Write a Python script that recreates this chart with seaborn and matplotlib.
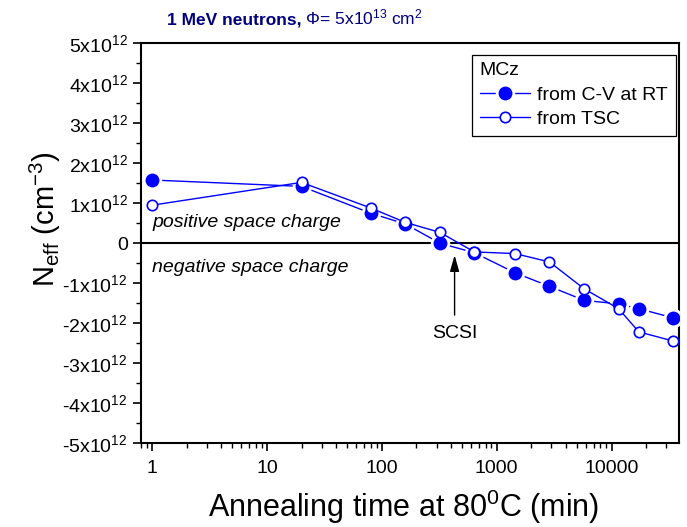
import matplotlib
matplotlib.use('Agg')
import matplotlib.pyplot as plt
import seaborn as sns
import numpy as np
import pandas as pd
from matplotlib import font_manager as fm
from matplotlib.ticker import FixedLocator, LogLocator, NullFormatter, FixedFormatter

# ---------------- data ----------------
time_min = [1, 20, 80, 160, 320, 640, 1440, 2880, 5760, 11520, 17280, 34560]
neff_cv = [1.58e12, 1.42e12, 0.75e12, 0.48e12, 0.0, -0.24e12, -0.74e12,
           -1.08e12, -1.43e12, -1.52e12, -1.64e12, -1.87e12]
neff_tsc = [0.95e12, 1.52e12, 0.88e12, 0.52e12, 0.27e12, -0.22e12, -0.26e12,
            -0.47e12, -1.14e12, -1.64e12, -2.22e12, -2.45e12]

series_labels = ['from C-V at RT', 'from TSC']
legend_title = 'MCz'

x_ticks = [1, 10, 100, 1000, 10000]
x_tick_labels = ['1', '10', '100', '1000', '10000']
y_ticks = [-5e12, -4e12, -3e12, -2e12, -1e12, 0, 1e12, 2e12, 3e12, 4e12, 5e12]
y_tick_labels = ['-5x10$^{12}$', '-4x10$^{12}$', '-3x10$^{12}$', '-2x10$^{12}$',
                 '-1x10$^{12}$', '0', '1x10$^{12}$', '2x10$^{12}$',
                 '3x10$^{12}$', '4x10$^{12}$', '5x10$^{12}$']

scsi_time = 430
scsi_label = 'SCSI'

# ---------------- style ----------------
sns.set_style('ticks')
plt.rcParams['font.family'] = ['Liberation Sans', 'DejaVu Sans']
plt.rcParams['mathtext.fontset'] = 'custom'
plt.rcParams['mathtext.rm'] = 'Liberation Sans'
plt.rcParams['mathtext.it'] = 'Liberation Sans:italic'
plt.rcParams['mathtext.bf'] = 'Liberation Sans:bold'
for key in ['text.color', 'axes.labelcolor', 'xtick.color', 'ytick.color',
            'xtick.labelcolor', 'ytick.labelcolor']:
    plt.rcParams[key] = 'black'

names = {f.name for f in fm.fontManager.ttflist}
narrow = 'Liberation Sans Narrow' if 'Liberation Sans Narrow' in names else 'Liberation Sans'

blue = '#0000FF'
navy = '#00007F'

fig = plt.figure(figsize=(6.87, 5.27), dpi=100)
ax = fig.add_axes([0.2052, 0.1594, 0.7838, 0.7584])

df = pd.DataFrame({'t': time_min, 'cv': neff_cv, 'tsc': neff_tsc})

ax.axhline(0, color='black', lw=1.5, zorder=1)

sns.lineplot(data=df, x='t', y='cv', ax=ax, sort=False, color=blue, lw=1.0,
             marker='o', markersize=12, markerfacecolor=blue,
             markeredgecolor='white', markeredgewidth=2.0,
             label=series_labels[0], zorder=3)
sns.lineplot(data=df, x='t', y='tsc', ax=ax, sort=False, color=blue, lw=1.0,
             marker='o', markersize=7.5, markerfacecolor='white',
             markeredgecolor=blue, markeredgewidth=1.2,
             label=series_labels[1], zorder=4)

ax.set_xscale('log')
ax.set_xlim(0.8, 39000)
ax.set_ylim(-5e12, 5e12)

ax.xaxis.set_major_locator(FixedLocator(x_ticks))
ax.xaxis.set_major_formatter(FixedFormatter(x_tick_labels))
ax.xaxis.set_minor_locator(LogLocator(base=10, subs=np.arange(2, 10), numticks=20))
ax.xaxis.set_minor_formatter(NullFormatter())

ax.yaxis.set_major_locator(FixedLocator(y_ticks))
ax.yaxis.set_major_formatter(FixedFormatter(y_tick_labels))
ax.yaxis.set_minor_locator(FixedLocator(np.arange(-4.5e12, 5e12, 1e12)))

ax.tick_params(axis='both', which='major', direction='out', length=6, width=1.2,
               labelsize=14, color='black', labelcolor='black', top=False, right=False)
ax.tick_params(axis='both', which='minor', direction='out', length=3.5, width=1.0,
               color='black', top=False, right=False)
ax.tick_params(axis='x', pad=6)

for s in ax.spines.values():
    s.set_color('black')
    s.set_linewidth(1.5)
    s.set_visible(True)

ax.set_xlabel('Annealing time at 80$^0$C (min)', fontsize=22, color='black')
ax.set_ylabel('N$_{\\mathrm{eff}}$ (cm$^{-3}$)', fontsize=21, color='black')
ax.xaxis.set_label_coords(0.487, -0.112)
ax.yaxis.set_label_coords(-0.145, 0.56)
ax.grid(False)

# annotations
ax.text(1.0, 0.52e12, 'positive space charge', fontsize=14, style='italic',
        ha='left', va='center', color='black')
ax.text(1.0, -0.62e12, 'negative space charge', fontsize=14, style='italic',
        ha='left', va='center', color='black')
ax.annotate('', xy=(scsi_time, -0.3e12), xytext=(scsi_time, -1.8e12),
            arrowprops=dict(arrowstyle='-|>,head_width=0.2,head_length=0.7',
                            color='black', lw=1.0,
                            mutation_scale=14, shrinkA=0, shrinkB=0))
ax.text(scsi_time, -2.25e12, scsi_label, fontsize=14, ha='center', va='center',
        color='black')

# title
t1 = fig.text(0.243, 0.953, '1 MeV neutrons,', fontsize=12.5, fontweight='bold',
              family=[narrow, 'DejaVu Sans'], color=navy, ha='left', va='baseline')
ax.annotate(' \u03a6= 5x10$^{13}$ cm$^2$', xy=(1, 0), xycoords=t1,
            fontsize=12.5, color=navy, ha='left', va='bottom',
            annotation_clip=False)

leg = ax.legend(title=legend_title, loc='upper right',
                bbox_to_anchor=(0.993, 0.972), fontsize=14, title_fontsize=14,
                frameon=True, fancybox=False, edgecolor='black', framealpha=1,
                handlelength=2.6, handletextpad=0.35, borderpad=0.4,
                labelspacing=0.35, borderaxespad=0)
leg.get_frame().set_linewidth(0.9)
leg._legend_box.align = 'left'
for txt in leg.get_texts():
    txt.set_color('black')
leg.get_title().set_color('black')

fig.savefig('out.png', dpi=100)
